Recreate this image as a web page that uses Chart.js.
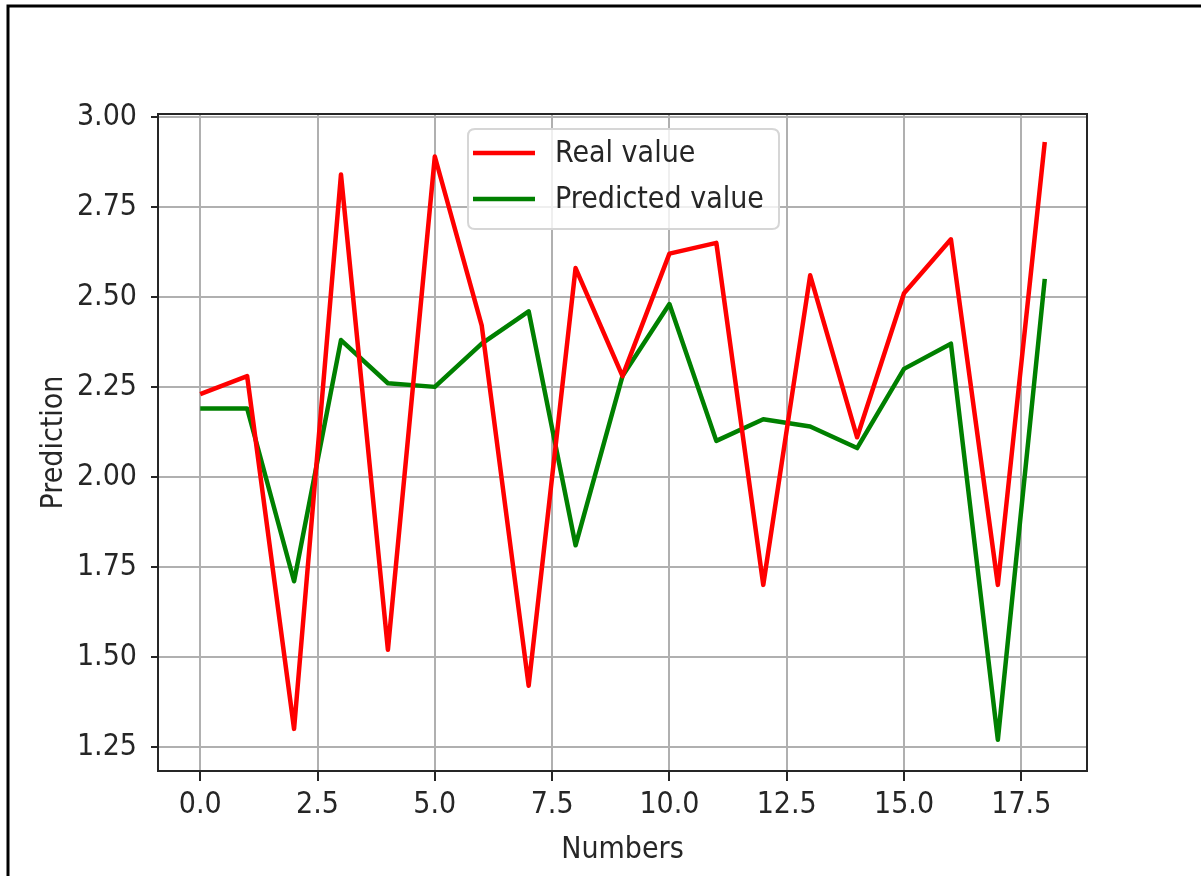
<!DOCTYPE html>
<html>
<head>
<meta charset="utf-8">
<title>Real vs predicted values</title>
<script src="https://cdn.jsdelivr.net/npm/chart.js@4.4.1/dist/chart.umd.min.js"></script>
<style>
  html, body { margin: 0; padding: 0; background: #ffffff; }
  canvas { display: block; }
</style>
</head>
<body>
<canvas id="chart" width="1201" height="876"></canvas>
<script>
// Sample index along the x axis
const numbers = [0, 1, 2, 3, 4, 5, 6, 7, 8, 9, 10, 11, 12, 13, 14, 15, 16, 17, 18];
// Observed values
const realValues = [2.23, 2.28, 1.30, 2.84, 1.52, 2.89, 2.42, 1.42, 2.58, 2.28,
                    2.62, 2.65, 1.70, 2.56, 2.11, 2.51, 2.66, 1.70, 2.93];
// Model output
const predictedValues = [2.19, 2.19, 1.71, 2.38, 2.26, 2.25, 2.37, 2.46, 1.81, 2.28,
                         2.48, 2.10, 2.16, 2.14, 2.08, 2.30, 2.37, 1.27, 2.55];
// Tick positions
const xTicks = [0, 2.5, 5, 7.5, 10, 12.5, 15, 17.5];
const yTicks = [1.25, 1.5, 1.75, 2.0, 2.25, 2.5, 2.75, 3.0];

const FONT = "'DejaVu Sans Condensed', 'DejaVu Sans', sans-serif";
const TEXT = '#262626';
const GRID = '#b0b0b0';
const SPINE = '#262626';

const toPoints = (ys) => numbers.map((x, i) => ({ x: x, y: ys[i] }));

// Axes box drawn over the lines, and the figure frame on the top and left edges
const framePlugin = {
  id: 'frame',
  afterDatasetsDraw(chart) {
    const { ctx, chartArea: a } = chart;
    ctx.save();
    ctx.strokeStyle = SPINE;
    ctx.lineWidth = 2;
    ctx.strokeRect(a.left, a.top, a.right - a.left, a.bottom - a.top);
    ctx.restore();
  },
  afterDraw(chart) {
    const { ctx, width } = chart;
    ctx.save();
    ctx.strokeStyle = '#000000';
    ctx.lineWidth = 3;
    ctx.beginPath();
    ctx.moveTo(width, 6);
    ctx.lineTo(8, 6);
    ctx.lineTo(8, chart.height);
    ctx.stroke();
    ctx.restore();
  }
};

// Legend box placed inside the plot area
const insideLegend = {
  id: 'insideLegend',
  afterDraw(chart) {
    const { ctx } = chart;
    const x0 = 468, y0 = 129, w = 311, h = 100, r = 7;
    ctx.save();
    ctx.beginPath();
    ctx.moveTo(x0 + r, y0);
    ctx.lineTo(x0 + w - r, y0);
    ctx.quadraticCurveTo(x0 + w, y0, x0 + w, y0 + r);
    ctx.lineTo(x0 + w, y0 + h - r);
    ctx.quadraticCurveTo(x0 + w, y0 + h, x0 + w - r, y0 + h);
    ctx.lineTo(x0 + r, y0 + h);
    ctx.quadraticCurveTo(x0, y0 + h, x0, y0 + h - r);
    ctx.lineTo(x0, y0 + r);
    ctx.quadraticCurveTo(x0, y0, x0 + r, y0);
    ctx.closePath();
    ctx.fillStyle = 'rgba(255,255,255,0.8)';
    ctx.fill();
    ctx.strokeStyle = '#d6d6d6';
    ctx.lineWidth = 2;
    ctx.stroke();

    const rows = [153, 199];
    chart.data.datasets.forEach((ds, i) => {
      const y = rows[i];
      ctx.strokeStyle = ds.borderColor;
      ctx.lineWidth = 4.5;
      ctx.beginPath();
      ctx.moveTo(473, y);
      ctx.lineTo(535, y);
      ctx.stroke();
      ctx.fillStyle = TEXT;
      ctx.font = '30px ' + FONT;
      ctx.textAlign = 'left';
      ctx.textBaseline = 'middle';
      ctx.fillText(ds.label, 555, y + 1);
    });
    ctx.restore();
  }
};

new Chart(document.getElementById('chart'), {
  type: 'line',
  data: {
    datasets: [
      {
        label: 'Real value',
        data: toPoints(realValues),
        borderColor: '#ff0000',
        borderWidth: 4.5,
        pointRadius: 0,
        tension: 0,
        borderJoinStyle: 'round',
        fill: false
      },
      {
        label: 'Predicted value',
        data: toPoints(predictedValues),
        borderColor: '#008000',
        borderWidth: 4.5,
        pointRadius: 0,
        tension: 0,
        borderJoinStyle: 'round',
        fill: false
      }
    ]
  },
  options: {
    responsive: false,
    animation: false,
    devicePixelRatio: 1,
    layout: { padding: { left: 0, top: 114, right: 114, bottom: 0 } },
    plugins: {
      legend: { display: false },
      tooltip: { enabled: false }
    },
    scales: {
      x: {
        type: 'linear',
        min: -0.9,
        max: 18.9,
        afterFit(scale) { scale.height = 105; },
        afterBuildTicks(scale) { scale.ticks = xTicks.map(v => ({ value: v })); },
        grid: {
          color: GRID,
          lineWidth: 2,
          tickLength: 10,
          tickColor: SPINE,
          tickWidth: 2
        },
        border: { display: false },
        ticks: {
          color: TEXT,
          padding: 6,
          maxRotation: 0,
          autoSkip: false,
          font: { family: FONT, size: 30 },
          callback: (v) => Number(v).toFixed(1)
        },
        title: {
          display: true,
          text: 'Numbers',
          color: TEXT,
          font: { family: FONT, size: 30 },
          padding: { top: 0, bottom: 8 }
        }
      },
      y: {
        type: 'linear',
        min: 1.183,
        max: 3.008,
        afterFit(scale) { scale.width = 158; },
        afterBuildTicks(scale) { scale.ticks = yTicks.map(v => ({ value: v })); },
        grid: {
          color: GRID,
          lineWidth: 2,
          tickLength: 7,
          tickColor: SPINE,
          tickWidth: 2
        },
        border: { display: false },
        ticks: {
          color: TEXT,
          padding: 14,
          autoSkip: false,
          font: { family: FONT, size: 30 },
          callback: (v) => Number(v).toFixed(2)
        },
        title: {
          display: true,
          text: 'Prediction',
          color: TEXT,
          font: { family: FONT, size: 30 },
          padding: { top: 36, bottom: 0 }
        }
      }
    }
  },
  plugins: [framePlugin, insideLegend]
});
</script>
</body>
</html>
